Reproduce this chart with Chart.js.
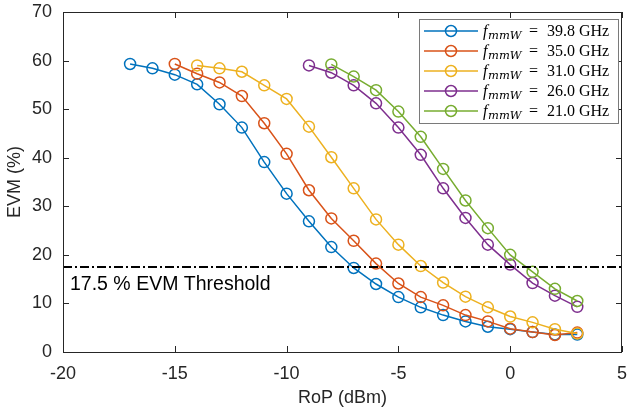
<!DOCTYPE html>
<html>
<head>
<meta charset="utf-8">
<script src="https://cdn.jsdelivr.net/npm/chart.js@4.4.1/dist/chart.umd.min.js"></script>
<style>
  html, body { margin: 0; padding: 0; background: #fff; }
</style>
</head>
<body>
<canvas id="chartEvm" width="629" height="419"></canvas>
<script>
// puissance optique reçue (dBm) et EVM (%) pour chaque fréquence mmW
const rop398 = [-17, -16, -15, -14, -13, -12, -11, -10, -9, -8, -7, -6, -5, -4, -3, -2, -1, 0, 1, 2, 3];
const evm398 = [59.3, 58.4, 57.1, 55.1, 51.0, 46.2, 39.1, 32.6, 26.9, 21.6, 17.3, 14.0, 11.3, 9.2, 7.6, 6.3, 5.2, 4.7, 4.1, 3.6, 3.6];

const rop350 = [-15, -14, -13, -12, -11, -10, -9, -8, -7, -6, -5, -4, -3, -2, -1, 0, 1, 2, 3];
const evm350 = [59.3, 57.3, 55.5, 52.7, 47.1, 40.8, 33.3, 27.5, 22.9, 18.2, 14.1, 11.3, 9.6, 7.6, 6.3, 4.8, 4.1, 3.5, 4.0];

const rop310 = [-14, -13, -12, -11, -10, -9, -8, -7, -6, -5, -4, -3, -2, -1, 0, 1, 2, 3];
const evm310 = [59.0, 58.4, 57.7, 54.9, 52.1, 46.4, 40.1, 33.7, 27.3, 22.1, 17.7, 14.3, 11.4, 9.2, 7.3, 6.1, 4.7, 3.8];

const rop260 = [-9, -8, -7, -6, -5, -4, -3, -2, -1, 0, 1, 2, 3];
const evm260 = [59.0, 57.5, 54.9, 51.2, 46.2, 40.6, 33.7, 27.6, 22.1, 18.0, 14.2, 11.6, 9.3];

const rop210 = [-8, -7, -6, -5, -4, -3, -2, -1, 0, 1, 2, 3];
const evm210 = [59.2, 56.7, 53.9, 49.5, 44.3, 37.7, 31.2, 25.5, 20.0, 16.5, 13.0, 10.5];

const frequences = ['39.8', '35.0', '31.0', '26.0', '21.0'];
const couleurs = ['#0072BD', '#D95319', '#EDB120', '#7E2F8E', '#77AC30'];
const seuilEvm = 17.5;
const seuilTexte = '17.5 % EVM Threshold';

const series = [
  [rop398, evm398],
  [rop350, evm350],
  [rop310, evm310],
  [rop260, evm260],
  [rop210, evm210]
];

const sans = "'Liberation Sans', Arial, sans-serif";
const serif = "'Liberation Serif', 'Times New Roman', serif";
const gris = '#262626';

const datasets = series.map((s, i) => ({
  label: frequences[i],
  data: s[0].map((x, k) => ({ x: x, y: s[1][k] })),
  borderColor: couleurs[i],
  borderWidth: 1.5,
  pointRadius: 5.5,
  pointBorderWidth: 1.5,
  pointBorderColor: couleurs[i],
  pointBackgroundColor: 'rgba(0,0,0,0)',
  order: 4 - i
}));

// ligne de seuil
datasets.push({
  label: 'seuil',
  data: [{ x: -20, y: seuilEvm }, { x: 5, y: seuilEvm }],
  borderColor: '#000',
  borderWidth: 2,
  borderDash: [9, 3, 2, 3],
  pointRadius: 0,
  order: -1
});

// cadre, graduations vers l'intérieur, texte du seuil et légende
const cadre = {
  id: 'cadre',
  afterDraw(chart) {
    const ctx = chart.ctx;
    const a = chart.chartArea;
    const sx = chart.scales.x;
    const sy = chart.scales.y;
    ctx.save();
    ctx.strokeStyle = gris;
    ctx.lineWidth = 1;
    ctx.strokeRect(Math.round(a.left) + 0.5, Math.round(a.top) + 0.5,
      Math.round(a.right - a.left) - 1, Math.round(a.bottom - a.top));
    ctx.beginPath();
    sx.ticks.forEach(t => {
      const px = Math.round(sx.getPixelForValue(t.value)) + 0.5;
      ctx.moveTo(px, a.bottom); ctx.lineTo(px, a.bottom - 6);
      ctx.moveTo(px, a.top); ctx.lineTo(px, a.top + 6);
    });
    sy.ticks.forEach(t => {
      const py = Math.round(sy.getPixelForValue(t.value)) + 0.5;
      ctx.moveTo(a.left, py); ctx.lineTo(a.left + 6, py);
      ctx.moveTo(a.right, py); ctx.lineTo(a.right - 6, py);
    });
    ctx.stroke();

    // texte du seuil
    ctx.fillStyle = '#000';
    ctx.font = '19.5px ' + sans;
    ctx.textBaseline = 'alphabetic';
    ctx.textAlign = 'left';
    ctx.fillText(seuilTexte, 70, 290);

    // légende
    const lx = 419, ly = 19, lw = 199, lh = 104;
    ctx.fillStyle = '#fff';
    ctx.fillRect(lx, ly, lw, lh);
    ctx.strokeStyle = '#7a7a7a';
    ctx.lineWidth = 1;
    ctx.strokeRect(lx + 0.5, ly + 0.5, lw, lh);
    frequences.forEach((f, i) => {
      const y = 31 + i * 20;
      ctx.strokeStyle = couleurs[i];
      ctx.lineWidth = 1.5;
      ctx.beginPath();
      ctx.moveTo(424, y); ctx.lineTo(478, y);
      ctx.stroke();
      ctx.beginPath();
      ctx.arc(451, y, 5.5, 0, Math.PI * 2);
      ctx.stroke();
      ctx.fillStyle = '#000';
      ctx.font = 'italic 16px ' + serif;
      ctx.fillText('f', 483, y + 5);
      ctx.font = "italic 11.5px 'DejaVu Serif', serif";
      ctx.fillText('mmW', 488, y + 8);
      ctx.font = '16px ' + serif;
      ctx.fillText('=', 529, y + 5);
      ctx.fillText(f + ' GHz', 547, y + 5);
    });
    ctx.restore();
  }
};

new Chart(document.getElementById('chartEvm'), {
  type: 'line',
  data: { datasets: datasets },
  options: {
    responsive: false,
    animation: false,
    layout: { padding: { top: 12, right: 3, left: 0, bottom: 0 } },
    plugins: {
      legend: { display: false },
      tooltip: { enabled: false }
    },
    scales: {
      x: {
        type: 'linear',
        min: -20,
        max: 5,
        ticks: { stepSize: 5, color: gris, font: { family: sans, size: 18 }, padding: 3, maxRotation: 0 },
        grid: { display: false },
        border: { display: false },
        title: { display: true, text: 'RoP (dBm)', color: gris, font: { family: sans, size: 18 }, padding: { top: 10, bottom: 10 } },
        afterFit(scale) {
          scale.height = 67;
          scale.paddingLeft = 0;
          scale.paddingRight = 0;
        }
      },
      y: {
        min: 0,
        max: 70,
        ticks: { stepSize: 10, color: gris, font: { family: sans, size: 18 }, padding: 3 },
        grid: { display: false },
        border: { display: false },
        title: { display: true, text: 'EVM (%)', color: gris, font: { family: sans, size: 18 }, padding: { top: 4, bottom: 4 } },
        afterFit(scale) {
          scale.width = 63;
          scale.paddingTop = 0;
          scale.paddingBottom = 0;
        }
      }
    }
  },
  plugins: [cadre]
});
</script>
</body>
</html>
